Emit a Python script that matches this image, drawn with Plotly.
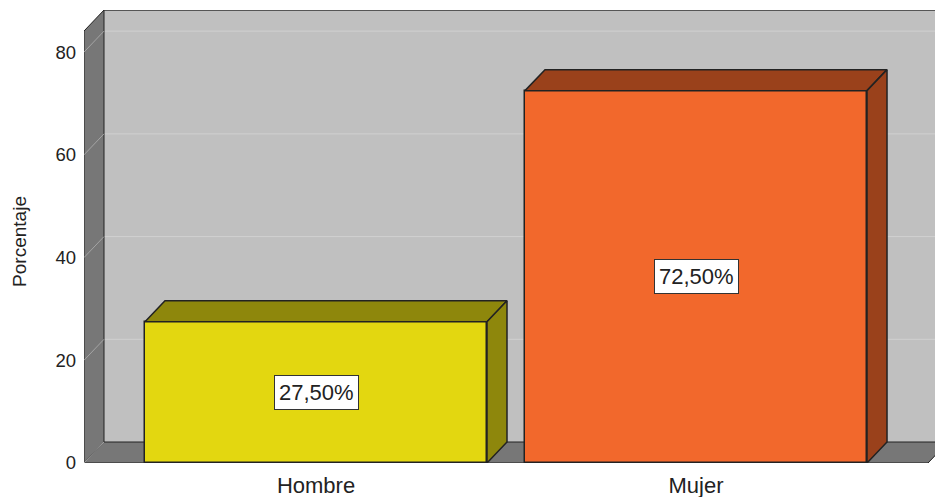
import plotly.graph_objects as go

# ---- data ----
categories = ["Hombre", "Mujer"]
values = [27.5, 72.5]
value_labels = ["27,50%", "72,50%"]
y_ticks = [0, 20, 40, 60, 80]

# ---- style ----
front_colors = ["#e3d710", "#f2682c"]
side_colors = ["#8e870c", "#9a411b"]
WALL_BACK = "#c0c0c0"
WALL_SIDE = "#777777"
GRID_BACK = "#d0d0d0"
GRID_SIDE = "#a4a4a4"
EDGE = "#222222"
FONT = "Liberation Sans, Arial, sans-serif"

BAR_W = 0.9
DX = 20 / 380.0          # depth offset in x data units
DY = 21 / 5.1375         # depth offset in y data units
X_LO, X_HI = -0.6105, 1.6105
Y_TOP = 84.1
XR = [-0.6105, 1.6289]
YR = [0, 88.2]


def poly(pts):
    return "M " + " L ".join(f"{x},{y}" for x, y in pts) + " Z"


shapes = []
# back wall
shapes.append(dict(type="rect", xref="x", yref="y", x0=X_LO + DX, x1=X_HI + DX,
                   y0=DY, y1=Y_TOP + DY, fillcolor=WALL_BACK, line=dict(width=0), layer="below"))
# grid on back wall
for t in y_ticks[1:]:
    shapes.append(dict(type="line", xref="x", yref="y", x0=X_LO + DX, x1=X_HI + DX,
                       y0=t + DY, y1=t + DY, line=dict(color=GRID_BACK, width=1), layer="below"))
# left wall
shapes.append(dict(type="path", xref="x", yref="y",
                   path=poly([(X_LO, 0), (X_LO, Y_TOP), (X_LO + DX, Y_TOP + DY), (X_LO + DX, DY)]),
                   fillcolor=WALL_SIDE, line=dict(color=EDGE, width=1), layer="below"))
# floor
shapes.append(dict(type="path", xref="x", yref="y",
                   path=poly([(X_LO, 0), (X_HI, 0), (X_HI + DX, DY), (X_LO + DX, DY)]),
                   fillcolor=WALL_SIDE, line=dict(color=EDGE, width=1), layer="below"))
for t in y_ticks:
    shapes.append(dict(type="line", xref="x", yref="y", x0=X_LO, x1=X_LO + DX,
                       y0=t, y1=t + DY, line=dict(color=GRID_SIDE, width=1), layer="below"))
# top edge of back wall
shapes.append(dict(type="line", xref="x", yref="y", x0=X_LO + DX, x1=X_HI + DX,
                   y0=Y_TOP + DY, y1=Y_TOP + DY, line=dict(color="#333333", width=1.5), layer="below"))

fig = go.Figure()

# front faces
fig.add_trace(go.Bar(x=[0, 1], y=values, width=BAR_W,
                     marker=dict(color=front_colors, line=dict(color=EDGE, width=1.5)),
                     hoverinfo="skip", showlegend=False))

# top and side faces
for i, v in enumerate(values):
    x0 = i - BAR_W / 2
    x1 = i + BAR_W / 2
    top = [(x0, v), (x1, v), (x1 + DX, v + DY), (x0 + DX, v + DY), (x0, v)]
    side = [(x1, 0), (x1, v), (x1 + DX, v + DY), (x1 + DX, DY), (x1, 0)]
    for pts in (top, side):
        fig.add_trace(go.Scatter(x=[p[0] for p in pts], y=[p[1] for p in pts],
                                 mode="lines", fill="toself", fillcolor=side_colors[i],
                                 line=dict(color=EDGE, width=1.5), hoverinfo="skip",
                                 showlegend=False))

# value labels
for i, v in enumerate(values):
    fig.add_annotation(x=i, y=v / 2, xref="x", yref="y", text=value_labels[i],
                       showarrow=False, bgcolor="white", bordercolor="#333333",
                       borderwidth=1, borderpad=4,
                       font=dict(family=FONT, size=22, color="#222222"))

# y-axis title
fig.add_annotation(xref="paper", yref="y", x=0, y=Y_TOP / 2 + 1, xshift=-64,
                   xanchor="center", yanchor="middle",
                   text="Porcentaje", textangle=-90, showarrow=False,
                   font=dict(family=FONT, size=19, color="#222222"))

fig.update_layout(
    width=935, height=497,
    margin=dict(l=84, r=0, t=10, b=34),
    paper_bgcolor="white", plot_bgcolor="white",
    shapes=shapes,
    bargap=0,
    xaxis=dict(range=XR, tickvals=[0, 1], ticktext=categories, showgrid=False,
               zeroline=False, showline=False, ticks="",
               ticklabelstandoff=7,
               tickfont=dict(family=FONT, size=22, color="#222222")),
    yaxis=dict(range=YR, tickvals=y_ticks, ticktext=[str(t) for t in y_ticks],
               showgrid=False, zeroline=False, showline=False, ticks="",
               ticklabelstandoff=7,
               tickfont=dict(family=FONT, size=18.5, color="#222222")),
)

fig.write_html("out.html")
